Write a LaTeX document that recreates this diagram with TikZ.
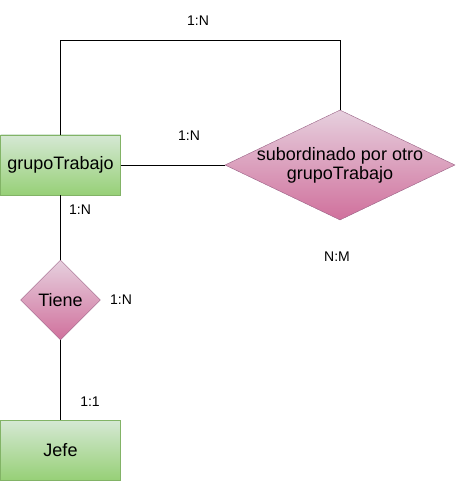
\documentclass[tikz,border=0pt]{standalone}
\usepackage{fontspec}
\setmainfont{Liberation Sans}
\usetikzlibrary{shapes.geometric}
\definecolor{greenTop}{HTML}{D5E8D4}
\definecolor{greenBot}{HTML}{97D077}
\definecolor{greenLine}{HTML}{82B366}
\definecolor{pinkTop}{HTML}{E6D0DE}
\definecolor{pinkBot}{HTML}{D0709C}
\definecolor{pinkLine}{HTML}{996185}
\begin{document}
\begin{tikzpicture}[x=1pt, y=-1pt, font=\fontsize{14}{16}\selectfont]
%
% Entidades y relaciones (coordenadas en pixeles, y hacia abajo)
%
\tikzstyle{entity} = [rectangle, minimum width=120pt, minimum height=60pt, text centered, draw=greenLine, top color=greenTop, bottom color=greenBot, inner sep=0pt, font=\fontsize{18}{19}\selectfont]
\tikzstyle{relation} = [diamond, text centered, draw=pinkLine, top color=pinkTop, bottom color=pinkBot, align=center, font=\fontsize{18}{19}\selectfont]
\tikzstyle{card} = [inner sep=0pt]
\tikzstyle{line} = [thin, black]
\useasboundingbox (0,0) rectangle (456,481);
% Nodes
\node (grupo) [entity] at (60.5,165) {grupoTrabajo};
\node (subordinado) [relation, aspect=2.09, inner sep=-6pt, minimum width=230pt, minimum height=110pt] at (340,165) {subordinado por otro\\grupoTrabajo};
\node (tiene) [relation, inner sep=0pt, minimum width=80pt, minimum height=80pt] at (60.5,300) {Tiene};
\node (jefe) [entity] at (60.5,450) {Jefe};
\coordinate (top_bend) at (60.5,40);
% Cardinalidades
\node (card_top) [card] at (198,21) {1:N};
\node (card_sub) [card] at (189,136) {1:N};
\node (card_grupo) [card] at (80,210) {1:N};
\node (card_tiene) [card] at (121,300) {1:N};
\node (card_jefe) [card] at (90,402) {1:1};
\node (card_nm) [card] at (337,257) {N:M};
% Lines
\draw [line] (grupo.north) -- (top_bend) -| (subordinado.north);
\draw [line] (grupo.east) -- (subordinado.west);
\draw [line] (grupo.south) -- (tiene.north);
\draw [line] (tiene.south) -- (jefe.north);
\end{tikzpicture}
\end{document}
